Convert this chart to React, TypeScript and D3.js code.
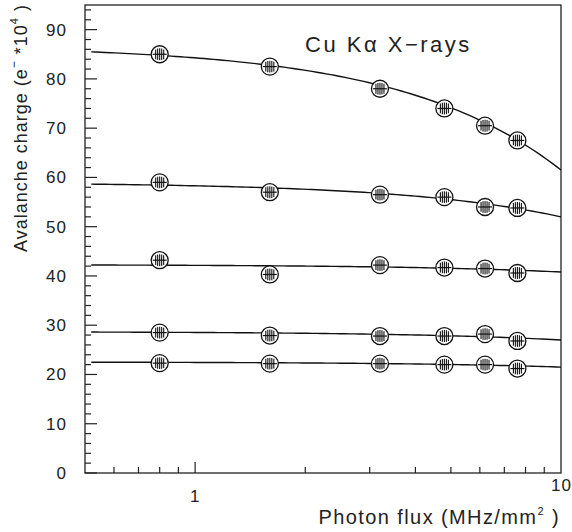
import React, { useEffect, useRef } from "react";
import * as d3 from "d3";

// photon flux (MHz/mm^2) of the measurements
const flux = [0.8, 1.6, 3.2, 4.8, 6.2, 7.6];

// avalanche charge (e- * 10^4), one array per gain setting
const serie1 = [85.0, 82.5, 78.0, 74.0, 70.5, 67.5];
const serie2 = [59.0, 57.0, 56.5, 56.0, 54.0, 53.8];
const serie3 = [43.2, 40.3, 42.2, 41.7, 41.5, 40.6];
const serie4 = [28.5, 27.9, 27.8, 27.8, 28.2, 26.8];
const serie5 = [22.3, 22.2, 22.2, 22.0, 22.0, 21.2];

// linear fits  y = a + b * flux
const fitA = [86.8, 59.0, 42.3, 28.7, 22.55];
const fitB = [-2.53, -0.7, -0.15, -0.17, -0.105];

const yTicks = [0, 10, 20, 30, 40, 50, 60, 70, 80, 90];
const xTicks = [1, 10];

const App = () => {
  const ref = useRef<SVGSVGElement>(null);

  useEffect(() => {
    const svg = d3.select(ref.current);
    svg.selectAll("*").remove();

    const left = 85, right = 561, top = 5, bottom = 473;
    const x = d3.scaleLog().domain([0.5, 10]).range([left, right]);
    const y = d3.scaleLinear().domain([0, 95]).range([bottom, top]);
    const font = "'Liberation Sans', Arial, sans-serif";

    // frame
    svg.append("rect")
      .attr("x", left).attr("y", top)
      .attr("width", right - left).attr("height", bottom - top)
      .attr("fill", "none").attr("stroke", "#222").attr("stroke-width", 1.3);

    // y ticks, every 2 units, inward
    const yMinor = d3.range(0, 95, 2);
    svg.append("g").selectAll("line")
      .data(yMinor)
      .join("line")
      .attr("x1", left).attr("x2", (d) => left + (d % 10 === 0 ? 12 : 6))
      .attr("y1", (d) => y(d)).attr("y2", (d) => y(d))
      .attr("stroke", "#222").attr("stroke-width", 1.2);

    svg.append("g").selectAll("text")
      .data(yTicks)
      .join("text")
      .attr("x", 67).attr("y", (d) => y(d) + 6)
      .attr("text-anchor", "end")
      .style("font-family", font).style("font-size", "17px").style("fill", "#222")
      .style("letter-spacing", "1px")
      .text((d) => d);

    // x ticks, log minor ticks
    const xMinor = [0.6, 0.7, 0.8, 0.9, 1, 2, 3, 4, 5, 6, 7, 8, 9];
    svg.append("g").selectAll("line")
      .data(xMinor)
      .join("line")
      .attr("x1", (d) => x(d)).attr("x2", (d) => x(d))
      .attr("y1", bottom).attr("y2", (d) => bottom - (d === 1 ? 11 : 6))
      .attr("stroke", "#222").attr("stroke-width", 1.2);

    svg.append("g").selectAll("text")
      .data(xTicks)
      .join("text")
      .attr("x", (d) => x(d))
      .attr("y", (d) => (d === 10 ? 491 : 502))
      .attr("text-anchor", (d) => (d === 10 ? "start" : "middle"))
      .attr("dx", (d) => (d === 10 ? -10 : 0))
      .style("font-family", font).style("font-size", "17px").style("fill", "#222")
      .style("letter-spacing", "1px")
      .text((d) => d);

    // fit curves
    const series = [serie1, serie2, serie3, serie4, serie5];
    const lo = Math.log10(0.52);
    const xs = d3.range(0, 101).map((i) => Math.pow(10, lo + (i / 100) * (1 - lo)));
    const lineGen = d3.line<[number, number]>().x((d) => x(d[0])).y((d) => y(d[1]));
    fitA.forEach((a, i) => {
      svg.append("path")
        .attr("d", lineGen(xs.map((v) => [v, a + fitB[i] * v])))
        .attr("fill", "none").attr("stroke", "#111").attr("stroke-width", 1.4);
    });

    // markers: open circles with vertical hatching
    series.forEach((s) => {
      const g = svg.append("g");
      const pts = g.selectAll("g")
        .data(s.map((v, i) => [flux[i], v]))
        .join("g")
        .attr("transform", (d) => `translate(${x(d[0])},${y(d[1])})`);
      pts.append("circle").attr("r", 8.5).attr("fill", "white")
        .attr("stroke", "#111").attr("stroke-width", 1.3);
      [-4, -2, 0, 2, 4].forEach((dx) => {
        const h = Math.sqrt(49 - dx * dx) * 0.85;
        pts.append("line")
          .attr("x1", dx).attr("x2", dx).attr("y1", -h).attr("y2", h)
          .attr("stroke", "#111").attr("stroke-width", 1.1);
      });
      pts.append("line").attr("x1", -7).attr("x2", 7).attr("y1", 0).attr("y2", 0)
        .attr("stroke", "#111").attr("stroke-width", 1.2);
    });

    // title
    svg.append("text")
      .attr("x", 305).attr("y", 52)
      .style("font-family", font).style("font-size", "22px").style("fill", "#222")
      .style("letter-spacing", "2.5px")
      .text("Cu Kα X\u2212rays");

    // x label
    const xl = svg.append("text")
      .attr("x", 560).attr("y", 524)
      .attr("text-anchor", "end")
      .style("font-family", font).style("font-size", "20px").style("fill", "#222")
      .style("letter-spacing", "1.4px");
    xl.append("tspan").text("Photon flux (MHz/mm");
    xl.append("tspan").attr("dy", -9).style("font-size", "11px").text("2");
    xl.append("tspan").attr("dy", 9).text(" )");

    // y label
    const yl = svg.append("text")
      .attr("transform", "translate(27,128) rotate(-90)")
      .attr("text-anchor", "middle")
      .style("font-family", font).style("font-size", "18px").style("fill", "#222")
      .style("letter-spacing", "1px");
    yl.append("tspan").text("Avalanche charge (e");
    yl.append("tspan").attr("dy", -9).style("font-size", "12px").text("\u2212");
    yl.append("tspan").attr("dy", 9).text(" *10");
    yl.append("tspan").attr("dy", -9).style("font-size", "11px").text("4");
    yl.append("tspan").attr("dy", 9).text(" )");
  }, []);

  return (
    <div style={{ position: "absolute", left: 0, top: 0 }}>
      <svg ref={ref} width={572} height={532} style={{ display: "block", background: "white" }} />
    </div>
  );
};

export default App;
